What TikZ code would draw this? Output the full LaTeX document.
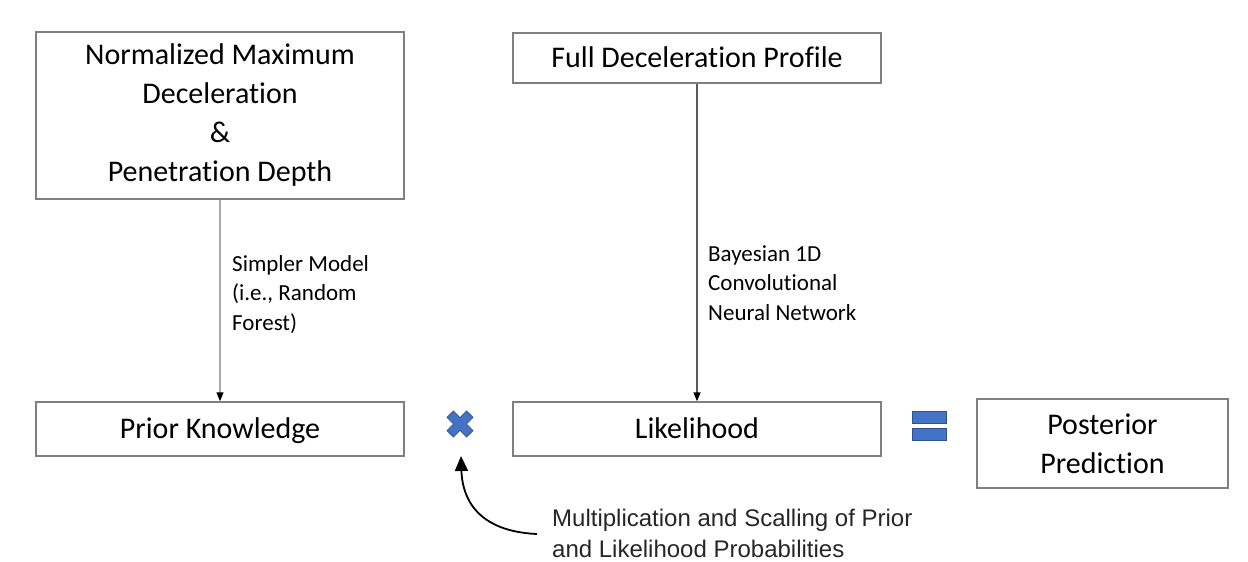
\documentclass[tikz,border=0pt]{standalone}
\usepackage{fontspec}
\setmainfont[Ligatures=NoCommon]{Carlito}
\newfontfamily\notefont{Liberation Sans}
\usetikzlibrary{arrows.meta}
\definecolor{boxline}{HTML}{7F7F7F}
\definecolor{symfill}{HTML}{4472C4}
\definecolor{symline}{HTML}{2F528F}
\definecolor{lightarrow}{HTML}{ABABAB}
\definecolor{darkarrow}{HTML}{5A5A5A}
\begin{document}
\begin{tikzpicture}[x=1pt,y=-1pt,
  box/.style={draw=boxline, line width=1.5pt, inner sep=0pt, align=center,
    font=\fontsize{30}{39}\selectfont, text=black},
  oneline/.style={text height=21.5pt, text depth=3pt},
  elabel/.style={inner sep=0pt, align=left, anchor=north west,
    font=\fontsize{23}{29.5}\selectfont, text=black},
  flow/.style={-{Triangle[length=9pt,width=7pt,color=black]}},
  sym/.style={fill=symfill, draw=symline, line width=0.8pt},
]
\useasboundingbox (0,0) rectangle (1248,562);

% boxes
\node[box, minimum width=368pt, minimum height=167pt] (inputs) at (220,115.5)
  {Normalized Maximum\\Deceleration\\\&\\Penetration Depth};
\node[box, oneline, minimum width=368pt, minimum height=50pt] (profile) at (697,58)
  {Full Deceleration Profile};
\node[box, oneline, minimum width=368pt, minimum height=54pt] (prior) at (220,429)
  {Prior Knowledge};
\node[box, oneline, minimum width=368pt, minimum height=54pt] (like) at (697,429)
  {Likelihood};
\node[box, minimum width=251pt, minimum height=89pt] (post) at (1102.5,443.5)
  {Posterior\\Prediction};

% model arrows and their labels
\draw[flow, draw=lightarrow, line width=1.2pt] (inputs) -- (prior);
\draw[flow, draw=darkarrow, line width=1.5pt] (profile) -- (like);
\node[elabel] (rf) at (232,255) {Simpler Model\\(i.e., Random\\Forest)};
\node[elabel] (cnn) at (708,245) {Bayesian 1D\\Convolutional\\Neural Network};

% multiplication sign
\begin{scope}[shift={(460,424)}, rotate=45]
  \filldraw[sym] (4.5,13.9) -- (4.5,4.5) -- (13.9,4.5) -- (13.9,-4.5) -- (4.5,-4.5)
    -- (4.5,-13.9) -- (-4.5,-13.9) -- (-4.5,-4.5) -- (-13.9,-4.5) -- (-13.9,4.5)
    -- (-4.5,4.5) -- (-4.5,13.9) -- cycle;
\end{scope}

% equals sign
\filldraw[sym] (912,411) rectangle (946,423);
\filldraw[sym] (912,428) rectangle (946,440);

% note on combining the two models
\node[inner sep=0pt, anchor=west, align=left,
  font=\notefont\fontsize{24}{30.5}\selectfont, text=black!85] (note) at (552,533.5)
  {Multiplication and Scalling of Prior\\and Likelihood Probabilities};
\coordinate (xtail) at (537,534);
\coordinate (xtip) at (461,456);
\draw[line width=1.8pt, -{Triangle[length=15pt,width=13pt]}]
  (xtail) .. controls (470,531) and (462,490) .. (xtip);
\end{tikzpicture}
\end{document}
